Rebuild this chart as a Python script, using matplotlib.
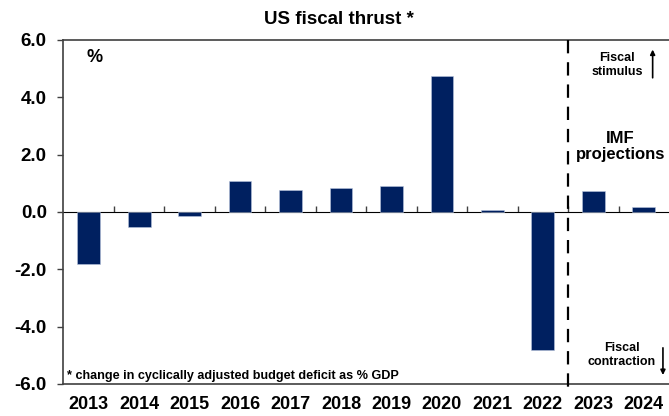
import matplotlib
matplotlib.use('Agg')
import matplotlib.pyplot as plt
import numpy as np

plt.rcParams['font.family'] = ['Liberation Sans', 'DejaVu Sans']
plt.rcParams['font.weight'] = 'bold'

years = ['2013', '2014', '2015', '2016', '2017', '2018',
         '2019', '2020', '2021', '2022', '2023', '2024']
thrust = [-1.83, -0.52, -0.15, 1.07, 0.77, 0.83,
          0.9, 4.74, 0.06, -4.8, 0.72, 0.18]
yticks = [-6.0, -4.0, -2.0, 0.0, 2.0, 4.0, 6.0]
first_projection = 10   # 2023 onwards are IMF numbers

BAR = '#002060'
AXIS = '#404040'
GREY = '#808080'


def main():
    fig = plt.figure(figsize=(6.69, 4.16), dpi=100)
    ax = fig.add_axes([0.0949, 0.077, 0.9051, 0.827])

    x = np.arange(len(years))
    ax.bar(x, thrust, width=0.45, color=BAR, edgecolor='#b8c4dc', linewidth=0.4, zorder=2)

    ax.set_xlim(-0.5, len(years) - 0.5)
    ax.set_ylim(-6, 6)
    ax.set_yticks(yticks)
    ax.set_yticklabels(['%.1f' % v for v in yticks], fontsize=13.5, fontweight='bold')
    ax.set_xticks(x)
    ax.set_xticklabels(years, fontsize=13, fontweight='bold')
    ax.tick_params(axis='x', length=0, pad=9)
    ax.tick_params(axis='y', length=4, width=1, color=AXIS, pad=8)

    for side in ['left', 'top', 'bottom']:
        ax.spines[side].set_color(AXIS)
        ax.spines[side].set_linewidth(1.2)
    ax.spines['right'].set_visible(False)

    # zero line with the category dividers hanging off it
    zero = ax.secondary_xaxis(0.5)
    zero.set_xticks(x[:-1] + 0.5)
    zero.set_xticklabels([])
    zero.tick_params(length=4, width=1, color=AXIS)
    zero.spines['bottom'].set_color(GREY)
    zero.spines['bottom'].set_linewidth(1.6)

    # split between history and projections
    split = first_projection - 0.5
    ax.plot([split, split], [6, -6.1], color='black', linewidth=1.6,
            dashes=(6, 4), clip_on=False, zorder=3)

    fig.text(0.507, 0.952, 'US fiscal thrust *', ha='center', va='center',
             fontsize=13.5, fontweight='bold')
    ax.text(0.052, 0.948, '%', transform=ax.transAxes, ha='center', va='center',
            fontsize=13, fontweight='bold')
    ax.text(0.005, 0.022, '* change in cyclically adjusted budget deficit as % GDP',
            transform=ax.transAxes, ha='left', va='center', fontsize=9.1, fontweight='bold')

    ax.text(0.914, 0.927, 'Fiscal\nstimulus', transform=ax.transAxes, ha='center',
            va='center', fontsize=9, fontweight='bold', linespacing=1.15)
    ax.annotate('', xy=(0.973, 0.972), xytext=(0.973, 0.89), xycoords='axes fraction',
                arrowprops=dict(arrowstyle='-|>', color='black', lw=1.2,
                                mutation_scale=7, shrinkA=0, shrinkB=0))
    ax.text(0.92, 0.69, 'IMF\nprojections', transform=ax.transAxes, ha='center',
            va='center', fontsize=12, fontweight='bold', linespacing=1.1)
    ax.text(0.922, 0.084, 'Fiscal\ncontraction', transform=ax.transAxes, ha='center',
            va='center', fontsize=9, fontweight='bold', linespacing=1.15)
    ax.annotate('', xy=(0.99, 0.026), xytext=(0.99, 0.105), xycoords='axes fraction',
                arrowprops=dict(arrowstyle='-|>', color='black', lw=1.2,
                                mutation_scale=7, shrinkA=0, shrinkB=0))

    fig.savefig('out.png', dpi=100)
    plt.close(fig)


if __name__ == '__main__':
    main()
